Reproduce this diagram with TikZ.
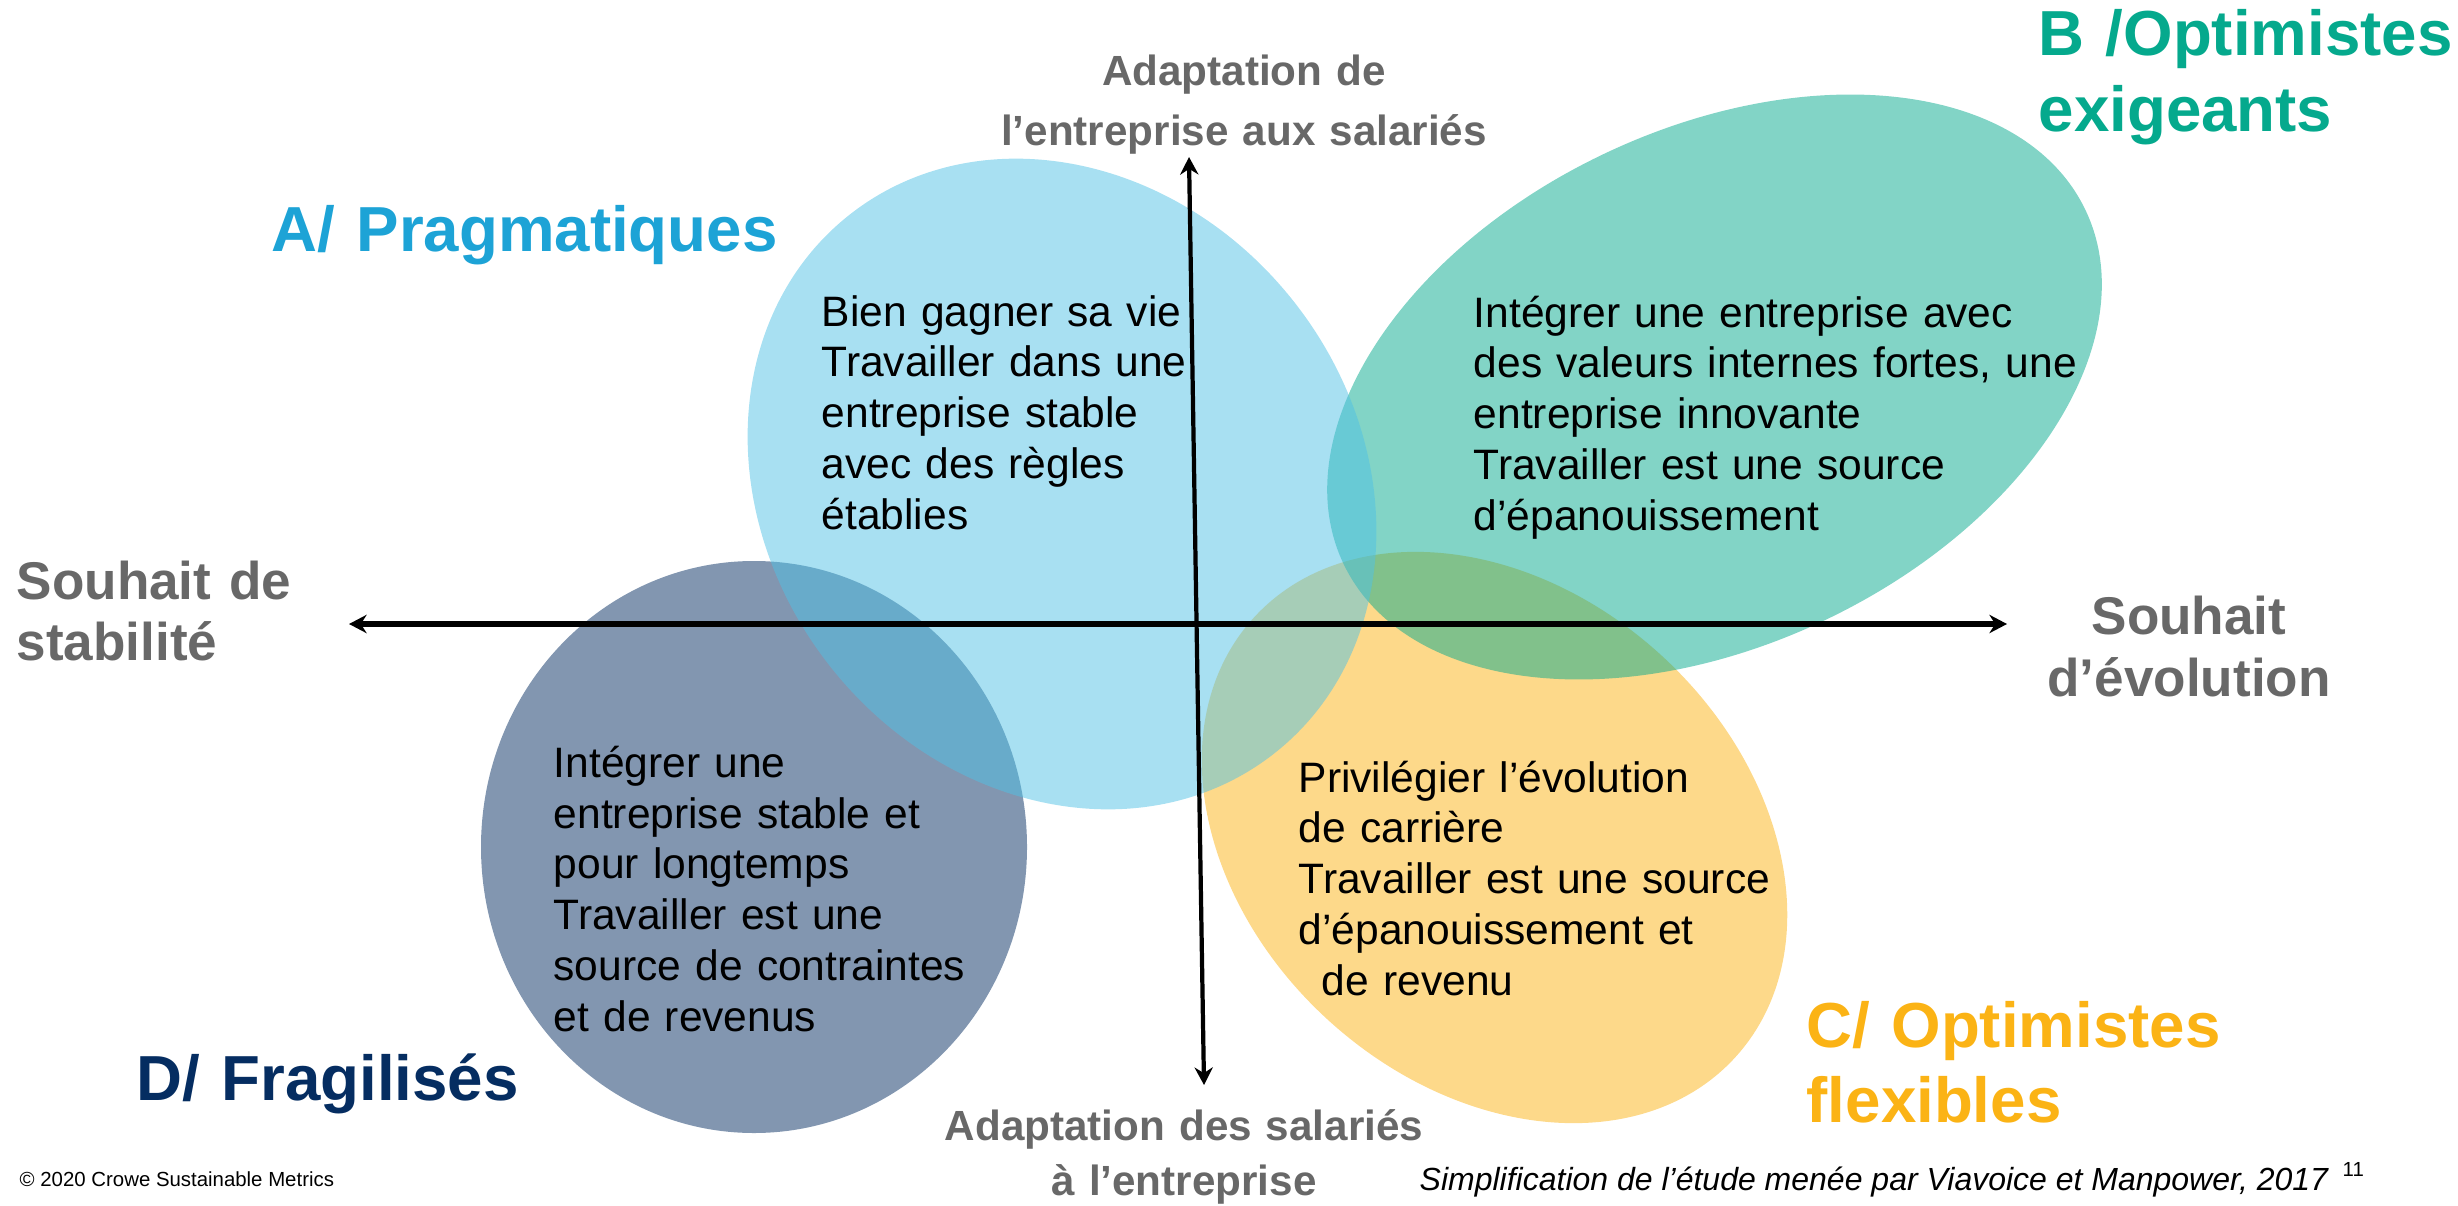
\documentclass[tikz,border=0pt]{standalone}
\usepackage{fontspec}
\setmainfont{Liberation Sans}
\usetikzlibrary{arrows.meta}
\definecolor{pragma}{HTML}{51C1E5}
\definecolor{exige}{HTML}{05A98D}
\definecolor{flexi}{HTML}{FBB315}
\definecolor{fragil}{HTML}{052D61}
\definecolor{pragmatxt}{HTML}{1DA3D6}
\definecolor{axegris}{HTML}{686868}
\begin{document}
\begin{tikzpicture}[>={Stealth[length=5pt,width=5.2pt]},x=0.01cm,y=0.01cm,
		bulle/.style={fill opacity=0.5},
		corps/.style={anchor=base west,inner sep=0pt,text width=9cm,align=left,font=\fontsize{12.1}{14.5}\selectfont},
		titre/.style={anchor=base west,inner sep=0pt,text width=9cm,align=left,font=\bfseries\fontsize{18.1}{21.5}\selectfont},
		axe/.style={inner sep=0pt,text width=9cm,text=axegris}]
		\useasboundingbox (0,0) rectangle (2458,1205);
		% les quatre profils
		\fill[bulle,fragil] (754,358) ellipse [x radius=273,y radius=286];
		\fill[bulle,flexi] (1494.5,367.5) ellipse [x radius=326,y radius=247,rotate=-42.4];
		\fill[bulle,exige] (1714.5,818) ellipse [x radius=411,y radius=258,rotate=25.5];
		\fill[bulle,pragma] (1062,721) ellipse [x radius=343,y radius=295,rotate=-51.6];
		% axes
		\coordinate (stab) at (349,581);
		\coordinate (evol) at (2007,581);
		\coordinate (entr) at (1189,1048);
		\coordinate (sala) at (1204,120);
		\draw[<->,line width=1.6pt] (stab) -- (evol);
		\draw[<->,line width=1.2pt] (entr) -- (sala);
		\node[axe,anchor=base west,align=left,font=\bfseries\fontsize{15.1}{17.4}\selectfont] (lstab) at (16,606) {Souhait de\\stabilité};
		\node[axe,anchor=base,align=center,font=\bfseries\fontsize{15.1}{17.9}\selectfont] (levol) at (2189,571) {Souhait\\d’évolution};
		\node[axe,anchor=base,align=center,font=\bfseries\fontsize{12}{17}\selectfont] (lentr) at (1244,1119) {Adaptation de\\l’entreprise aux salariés};
		\node[axe,anchor=base,align=center,font=\bfseries\fontsize{12}{15.7}\selectfont] (lsala) at (1184,65) {Adaptation des salariés\\à l’entreprise};
		% textes
		\node[corps] (ta) at (821,879) {Bien gagner sa vie\\Travailler dans une\\entreprise stable\\avec des règles\\établies};
		\node[corps] (tb) at (1473,878) {Intégrer une entreprise avec\\des valeurs internes fortes, une\\entreprise innovante\\Travailler est une source\\d’épanouissement};
		\node[corps] (tc) at (1298,413) {Privilégier l’évolution\\de carrière\\Travailler est une source\\d’épanouissement et\\\hspace*{6.6pt}de revenu};
		\node[corps] (td) at (553,428) {Intégrer une\\entreprise stable et\\pour longtemps\\Travailler est une\\source de contraintes\\et de revenus};
		\node[titre,text=pragmatxt] (pa) at (271,953) {A/ Pragmatiques};
		\node[titre,text=exige] (pb) at (2038,1149) {B /Optimistes\\exigeants};
		\node[titre,text=flexi] (pc) at (1806,158) {C/ Optimistes\\flexibles};
		\node[titre,text=fragil] (pd) at (136,105) {D/ Fragilisés};
		\node[anchor=base west,inner sep=0pt,font=\fontsize{5.8}{7}\selectfont] (copy) at (19,19) {© 2020 Crowe Sustainable Metrics};
		\node[anchor=base west,inner sep=0pt,font=\itshape\fontsize{9.1}{11}\selectfont] (src) at (1419,15) {Simplification de l’étude menée par Viavoice et Manpower, 2017};
		\node[anchor=base west,inner sep=0pt,font=\fontsize{5.8}{7}\selectfont] (num) at (2342,29) {11};
\end{tikzpicture}
\end{document}
